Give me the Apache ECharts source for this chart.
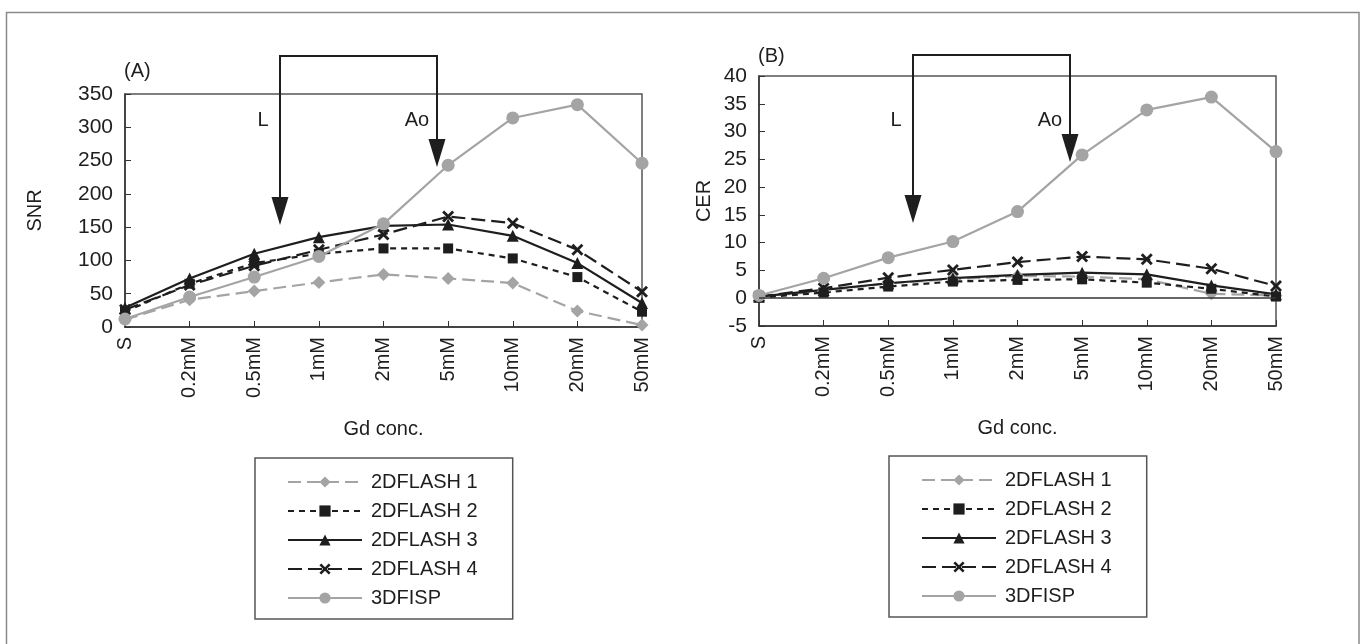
<!DOCTYPE html>
<html>
<head>
<meta charset="utf-8">
<script src="https://cdn.jsdelivr.net/npm/echarts@6/dist/echarts.min.js"></script>
<style>
  html, body { margin: 0; padding: 0; background: #fff; }
  #chart { width: 1361px; height: 644px; }
</style>
</head>
<body>
<div id="chart"></div>
<script>
// Gd concentration categories
const categories = ["S", "0.2mM", "0.5mM", "1mM", "2mM", "5mM", "10mM", "20mM", "50mM"];
const seriesNames = ["2DFLASH 1", "2DFLASH 2", "2DFLASH 3", "2DFLASH 4", "3DFISP"];

// (A) SNR
const snrFlash1 = [11, 41, 54, 67, 79, 73, 66, 24, 3];
const snrFlash2 = [23, 65, 96, 110, 118, 118, 103, 75, 23];
const snrFlash3 = [29, 73, 110, 135, 152, 154, 137, 96, 36];
const snrFlash4 = [26, 63, 92, 116, 139, 166, 156, 116, 53];
const snrFisp = [12, 45, 75, 106, 155, 243, 314, 334, 246];
const snrTicks = { min: 0, max: 350, interval: 50 };

// (B) CER
const cerFlash1 = [0.3, 1.3, 2.7, 3.4, 4.0, 3.9, 3.4, 0.8, 0.5];
const cerFlash2 = [0.1, 1.0, 2.1, 3.0, 3.3, 3.4, 2.8, 1.7, 0.3];
const cerFlash3 = [0.3, 1.5, 2.7, 3.6, 4.2, 4.6, 4.3, 2.3, 0.7];
const cerFlash4 = [0.3, 1.8, 3.7, 5.1, 6.5, 7.5, 7.0, 5.3, 2.2];
const cerFisp = [0.5, 3.6, 7.3, 10.2, 15.6, 25.8, 33.9, 36.2, 26.4];
const cerTicks = { min: -5, max: 40, interval: 5 };

const FONT = "Liberation Sans, Arial, sans-serif";
const INK = "#1e1e1e";
const GREY = "#a4a4a4";
const crossPath = "path://M0,2L2,0L6,4L10,0L12,2L8,6L12,10L10,12L6,8L2,12L0,10L4,6Z";

const styles = [
  { color: GREY, type: [13, 6], symbol: "diamond", size: 13 },
  { color: INK, type: [6, 5], symbol: "rect", size: 10 },
  { color: INK, type: "solid", symbol: "triangle", size: 12 },
  { color: INK, type: [14, 6], symbol: crossPath, size: 12 },
  { color: GREY, type: "solid", symbol: "circle", size: 13 }
];

function makeSeries(values, idx) {
  return values.map((data, i) => ({
    name: seriesNames[i],
    type: "line",
    xAxisIndex: idx,
    yAxisIndex: idx,
    data: data,
    symbol: styles[i].symbol,
    symbolSize: styles[i].size,
    showSymbol: true,
    itemStyle: { color: styles[i].color },
    lineStyle: { color: styles[i].color, width: 2.2, type: styles[i].type },
    animation: false
  }));
}

const seriesA = makeSeries([snrFlash1, snrFlash2, snrFlash3, snrFlash4, snrFisp], 0);
const seriesB = makeSeries([cerFlash1, cerFlash2, cerFlash3, cerFlash4, cerFisp], 1);
// zero line on the CER chart
seriesB[4].markLine = {
  silent: true,
  symbol: "none",
  label: { show: false },
  lineStyle: { color: "#333", width: 1.5, type: "solid" },
  data: [{ yAxis: 0 }]
};

function xAxis(gridIndex) {
  return {
    type: "category",
    gridIndex: gridIndex,
    data: categories,
    boundaryGap: false,
    name: "Gd conc.",
    nameLocation: "middle",
    nameGap: 92,
    nameTextStyle: { fontSize: 20, color: INK, fontFamily: FONT },
    axisLine: { onZero: false, lineStyle: { color: "#333", width: 1.5 } },
    axisTick: { inside: true, length: 6, lineStyle: { color: "#333" } },
    axisLabel: { rotate: 90, fontSize: 20, color: INK, fontFamily: FONT, margin: 10 },
    splitLine: { show: false }
  };
}

function yAxis(gridIndex, name, ticks, gap) {
  return {
    type: "value",
    gridIndex: gridIndex,
    min: ticks.min,
    max: ticks.max,
    interval: ticks.interval,
    name: name,
    nameLocation: "middle",
    nameRotate: 90,
    nameGap: gap,
    nameTextStyle: { fontSize: 20, color: INK, fontFamily: FONT },
    axisLine: { show: true, lineStyle: { color: "#333", width: 1.5 } },
    axisTick: { show: true, inside: true, length: 6, lineStyle: { color: "#333" } },
    axisLabel: { fontSize: 21, color: INK, fontFamily: FONT, margin: 12 },
    splitLine: { show: false }
  };
}

function legend(left, top) {
  return {
    orient: "vertical",
    left: left,
    top: top,
    data: seriesNames,
    itemWidth: 74,
    itemHeight: 14,
    itemGap: 9,
    padding: [14, 35, 11, 32],
    borderColor: "#555",
    borderWidth: 1.5,
    selectedMode: false,
    textStyle: { fontSize: 20, color: INK, fontFamily: FONT, lineHeight: 20, padding: [0, 0, 0, 4] }
  };
}

// bracket arrows L / Ao drawn as annotations
function bracket(xL, xAo, yTop, lTip, aoTip) {
  const head = 28, half = 8.5;
  return [
    { type: "polyline", shape: { points: [[xL, lTip - head], [xL, yTop], [xAo, yTop], [xAo, aoTip - head]] },
      style: { stroke: INK, lineWidth: 2, fill: null } },
    { type: "polygon", shape: { points: [[xL - half, lTip - head], [xL + half, lTip - head], [xL, lTip]] },
      style: { fill: INK } },
    { type: "polygon", shape: { points: [[xAo - half, aoTip - head], [xAo + half, aoTip - head], [xAo, aoTip]] },
      style: { fill: INK } },
    { type: "text", x: xL - 17, y: 120, style: { text: "L", fontSize: 20, fontFamily: FONT, fill: INK, align: "center", verticalAlign: "middle" } },
    { type: "text", x: xAo - 20, y: 120, style: { text: "Ao", fontSize: 20, fontFamily: FONT, fill: INK, align: "center", verticalAlign: "middle" } }
  ];
}

const chart = echarts.init(document.getElementById("chart"), null, { renderer: "canvas" });
chart.setOption({
  backgroundColor: "#fff",
  animation: false,
  textStyle: { fontFamily: FONT },
  title: [
    { text: "(A)", left: 119, top: 56, textStyle: { fontSize: 20, fontWeight: "normal", color: INK, fontFamily: FONT } },
    { text: "(B)", left: 753, top: 41, textStyle: { fontSize: 20, fontWeight: "normal", color: INK, fontFamily: FONT } }
  ],
  grid: [
    { left: 125, right: 719, top: 94, bottom: 317, show: true, borderColor: "#555", borderWidth: 1.5, backgroundColor: "transparent" },
    { left: 759, right: 85, top: 76, bottom: 318, show: true, borderColor: "#555", borderWidth: 1.5, backgroundColor: "transparent" }
  ],
  xAxis: [xAxis(0), xAxis(1)],
  yAxis: [yAxis(0, "SNR", snrTicks, 80), yAxis(1, "CER", cerTicks, 45)],
  legend: [legend(255, 458), legend(889, 456)],
  graphic: [
    { type: "rect", shape: { x: 6.5, y: 12.5, width: 1352.5, height: 700 }, style: { fill: null, stroke: "#8a8a8a", lineWidth: 1.5 }, silent: true }
  ].concat(bracket(280, 437, 56, 225, 167), bracket(913, 1070, 55, 223, 162)),
  series: seriesA.concat(seriesB)
});
</script>
</body>
</html>
